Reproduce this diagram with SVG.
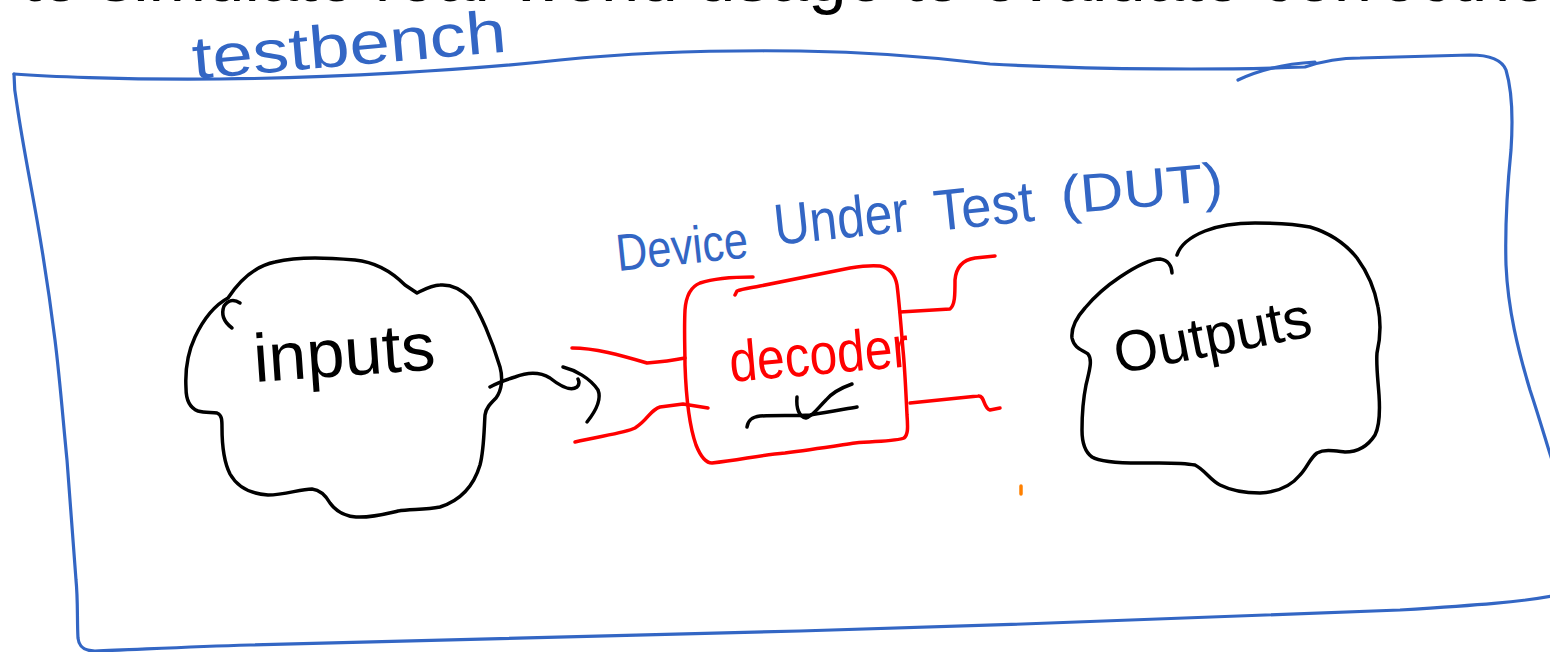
<svg xmlns="http://www.w3.org/2000/svg" width="1550" height="652" viewBox="0 0 1550 652">
  <style>
    .pen { fill: none; stroke-width: 3.5; stroke-linecap: round; stroke-linejoin: round; }
    .blue { stroke: #3366c4; stroke-width: 3.2; }
    .ink { stroke: #000000; }
    .red { stroke: #ff0000; }
    .hand { font-family: "Liberation Sans", "DejaVu Sans", sans-serif; }
    .hand-blue { fill: #3366c4; }
    .hand-ink { fill: #000000; }
    .hand-red { fill: #ff0000; }
  </style>

  <rect width="1550" height="652" fill="#ffffff"/>

  <!-- heading line, mostly running above the top edge -->
  <text x="22" y="1" font-family="Liberation Sans, Arial, sans-serif" font-size="69" fill="#000000">to simulate real-world usage to evaluate correctness</text>

  <!-- testbench frame -->
  <g id="testbench">
    <path class="pen blue" d="M14,74 C40,76 120,80 220,79 C330,78 470,70 560,60 C640,52 720,50 800,51 C880,52 940,58 990,64 C1100,70 1230,70 1305,67 C1320,62 1340,58 1360,58 L1470,55 C1490,55 1502,60 1506,70 C1512,90 1513,120 1511,150 C1507,190 1505,230 1506,265 C1508,310 1518,350 1530,390 C1540,420 1547,445 1552,460"/>
    <path class="pen blue" d="M1238,80 C1255,72 1280,64 1315,62"/>
    <path class="pen blue" d="M1552,596 C1520,602 1480,605 1400,610 C1250,617 1000,625 800,631 C600,637 400,642 250,645 C180,647 130,650 95,651 C84,651 79,647 78,638 C77,620 78,600 76,580 C73,540 70,500 67,460 C63,420 60,380 55,340 C50,300 44,260 37,220 C30,180 22,140 17,105 C15,95 14,85 14,74"/>
    <text class="hand hand-blue" x="194" y="79" font-size="60" textLength="315" lengthAdjust="spacingAndGlyphs" transform="rotate(-5 194 79)">testbench</text>
  </g>

  <!-- stimulus cloud -->
  <g id="inputs">
    <path class="pen ink" d="M228,298 C240,280 255,266 275,262 C300,256 330,258 355,260 C375,262 392,272 405,285 L417,293 C425,289 432,285 440,285 C452,284 462,290 470,298 C480,312 492,340 500,367 C503,378 502,390 496,398 C490,404 486,408 485,415 C484,430 484,450 480,465 C474,485 462,500 440,507 C425,510 410,509 398,511 C385,514 370,518 356,517 C343,516 335,510 330,503 C326,496 320,490 312,489 C300,489 285,495 268,495 C252,494 238,488 230,474 C224,462 222,445 222,428 C222,420 222,415 217,413 C212,412 205,413 198,411 C190,408 186,400 186,388 C185,370 188,352 195,337 C204,318 215,305 228,298 Z"/>
    <path class="pen ink" d="M240,303 C234,299 228,300 224,306 C221,314 224,322 232,328"/>
    <text class="hand hand-ink" x="255" y="382" font-size="68" textLength="182" lengthAdjust="spacingAndGlyphs" transform="rotate(-4 255 382)">inputs</text>
  </g>

  <!-- device under test -->
  <g id="dut">
    <text class="hand hand-blue" x="618" y="271" font-size="52" textLength="132" lengthAdjust="spacingAndGlyphs" transform="rotate(-6 618 271)">Device</text>
    <text class="hand hand-blue" x="776" y="245" font-size="58" textLength="135" lengthAdjust="spacingAndGlyphs" transform="rotate(-6 776 245)">Under</text>
    <text class="hand hand-blue" x="936" y="231" font-size="58" textLength="100" lengthAdjust="spacingAndGlyphs" transform="rotate(-6 936 231)">Test</text>
    <text class="hand hand-blue" x="1062" y="214" font-size="54" textLength="163" lengthAdjust="spacingAndGlyphs" transform="rotate(-5 1062 214)">(DUT)</text>
    <path class="pen red" d="M753,277 C735,277 712,279 700,283 C690,287 686,296 685,310 C684,330 685,350 685,365 C686,395 689,425 696,445 C700,455 705,463 712,463 C740,460 760,455 785,453 C810,450 835,446 855,443 C880,441 898,441 904,438 C908,435 908,428 907,415 C906,395 905,370 903,350 C901,325 899,300 897,285 C895,274 890,268 880,266 C872,265 862,266 850,268 C820,274 790,280 760,286 C750,288 742,289 737,291 L735,295"/>
    <path class="pen red" d="M572,348 C595,348 620,355 647,363 C660,362 675,360 685,358"/>
    <path class="pen red" d="M575,442 C600,436 625,433 635,428 C648,420 650,410 660,407 L683,404 L708,408"/>
    <path class="pen red" d="M900,312 L950,309 C955,305 955,295 955,280 C956,268 962,260 975,258 L995,256"/>
    <path class="pen red" d="M910,403 L978,396 C985,395 983,408 990,410 L1000,408"/>
    <text class="hand hand-red" x="731" y="382" font-size="58" textLength="180" lengthAdjust="spacingAndGlyphs" transform="rotate(-5 731 382)">decoder</text>
    <path class="pen ink" d="M747,427 C748,420 752,417 760,416 C775,415 795,416 810,415 C830,412 845,409 857,407"/>
    <path class="pen ink" stroke-width="4.5" d="M797,397 C796,408 799,417 806,418 C812,417 818,408 826,400 C831,394 838,389 852,384"/>
  </g>

  <!-- response cloud -->
  <g id="outputs">
    <path class="pen ink" d="M1177,255 C1180,246 1190,237 1205,231 C1220,225 1240,223 1255,223 C1275,223 1295,224 1310,227 C1330,233 1345,243 1357,258 C1368,273 1375,290 1378,307 C1381,322 1380,340 1377,353 C1376,365 1378,380 1379,395 C1380,410 1380,425 1375,435 C1368,446 1358,452 1345,452 C1335,451 1325,449 1317,453 C1310,458 1307,468 1300,475 C1292,485 1280,492 1260,493 C1245,493 1230,490 1220,485 C1210,480 1205,470 1195,465 C1180,462 1160,463 1140,463 C1120,463 1100,462 1092,457 C1085,452 1082,442 1082,430 C1082,415 1083,400 1086,385 C1089,372 1093,360 1088,354 C1082,350 1074,348 1072,338 C1071,328 1076,318 1085,308 C1095,296 1108,285 1120,277 C1135,267 1150,259 1160,259 C1168,260 1172,266 1172,273"/>
    <text class="hand hand-ink" x="1118" y="374" font-size="58" textLength="200" lengthAdjust="spacingAndGlyphs" transform="rotate(-11 1118 374)">Outputs</text>
  </g>

  <!-- hand-drawn arrow from stimulus into the DUT -->
  <g id="connectors">
    <path class="pen ink" d="M490,387 C497,383 505,380 515,377 C528,372 540,372 550,378 C560,386 570,392 577,387 C580,384 579,381 578,379"/>
    <path class="pen ink" d="M563,367 C575,370 590,378 598,390 C602,400 595,412 587,422"/>
  </g>

  <!-- stray pen mark -->
  <path class="pen" stroke="#ff8000" d="M1021,486 L1021,494"/>
</svg>
